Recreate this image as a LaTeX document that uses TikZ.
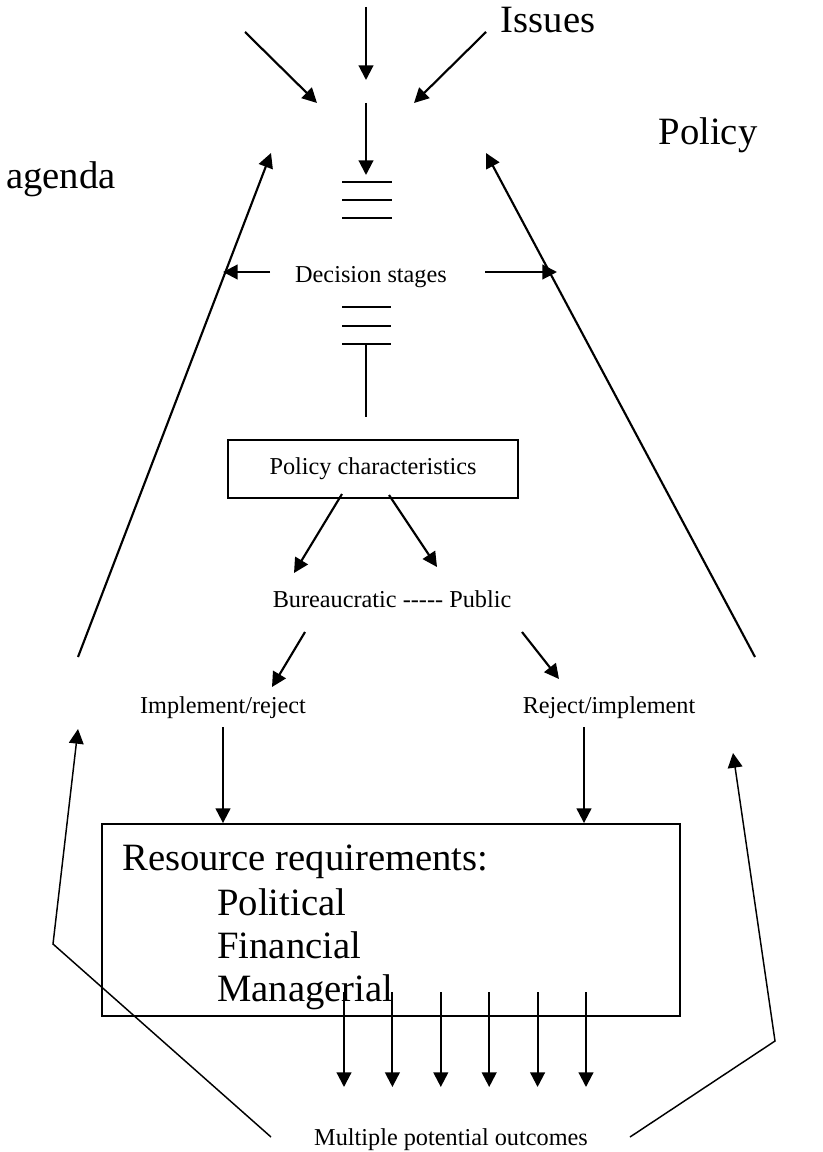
\documentclass[tikz,border=0pt]{standalone}
\usepackage{fontspec}
\setmainfont{Liberation Serif}
\usetikzlibrary{arrows.meta,calc}

\begin{document}
\begin{tikzpicture}[x=0.75pt,y=-0.75pt,
    arr/.style={line width=1.6pt,-{Triangle[length=11pt,width=11pt]}},
    thinarr/.style={line width=1.1pt,-{Triangle[length=11pt,width=11pt]}},
    bar/.style={line width=1.3pt},
    box/.style={draw,line width=1.4pt,inner sep=0pt},
    bigtext/.style={font=\fontsize{29}{34}\selectfont,inner sep=0pt,anchor=base},
    smalltext/.style={font=\fontsize{18.2}{22}\selectfont,inner sep=0pt,anchor=base}]
    \useasboundingbox (0,0) rectangle (823,1152);

    \node[bigtext] (issues) at (548,33) {Issues};
    \node[bigtext] (policy) at (708,145) {Policy};
    \node[bigtext] (agenda) at (61,188) {agenda};

    \coordinate (topa) at (366,7);   \coordinate (topb) at (366,80);
    \coordinate (dla) at (245,32);   \coordinate (dlb) at (317,103);
    \coordinate (dra) at (486,32);   \coordinate (drb) at (414,103);
    \coordinate (mida) at (366,103); \coordinate (midb) at (366,175);
    \draw[arr] (topa) -- (topb);
    \draw[arr] (dla) -- (dlb);
    \draw[arr] (dra) -- (drb);
    \draw[arr] (mida) -- (midb);
    \foreach \y in {182,200,218}
        \draw[bar] (342,\y) -- (392,\y);

    \node[smalltext] (stages) at (371,282) {Decision stages};
    \coordinate (sla) at (270,272); \coordinate (slb) at (223,272);
    \coordinate (sra) at (485,272); \coordinate (srb) at (557,272);
    \draw[arr] (sla) -- (slb);
    \draw[arr] (sra) -- (srb);
    \foreach \y in {307,326,344}
        \draw[bar] (342,\y) -- (391,\y);
    \coordinate (stema) at (366,344); \coordinate (stemb) at (366,417);
    \draw[bar] (stema) -- (stemb);

    \node[box,smalltext,anchor=center,minimum width=217.5pt,minimum height=43.5pt] (pc) at (373,469) {Policy characteristics};
    \coordinate (pcl) at (342,494); \coordinate (pclt) at (294,573);
    \coordinate (pcr) at (389,495); \coordinate (pcrt) at (437,567);
    \draw[arr] (pcl) -- (pclt);
    \draw[arr] (pcr) -- (pcrt);

    \node[smalltext] (bp) at (392,607) {Bureaucratic -{}-{}-{}-{}- Public};
    \coordinate (bpl) at (305,632); \coordinate (bplt) at (272,687);
    \coordinate (bpr) at (522,632); \coordinate (bprt) at (559,679);
    \draw[arr] (bpl) -- (bplt);
    \draw[arr] (bpr) -- (bprt);

    \node[smalltext] (impl) at (223,713) {Implement/reject};
    \node[smalltext] (rej) at (609,713) {Reject/implement};

    % long feedback lines
    \coordinate (lla) at (78,657);  \coordinate (llb) at (271,153);
    \coordinate (rla) at (755,657); \coordinate (rlb) at (486,153);
    \draw[arr] (lla) -- (llb);
    \draw[arr] (rla) -- (rlb);

    \node[box,minimum width=433.5pt,minimum height=144pt] (rr) at (391,920) {};
    \node[bigtext,anchor=base west] (rrh) at (122,870) {Resource requirements:};
    \node[bigtext,anchor=base west] (rrp) at (217,915) {Political};
    \node[bigtext,anchor=base west] (rrf) at (217,958) {Financial};
    \node[bigtext,anchor=base west] (rrm) at (217,1001) {Managerial};
    \coordinate (ia) at (223,727); \coordinate (ra) at (584,727);
    \draw[arr] (ia) -- (ia |- rr.north);
    \draw[arr] (ra) -- (ra |- rr.north);

    \foreach \i in {0,...,5} {
        \coordinate (out\i) at ({344+48.4*\i},992);
        \coordinate (tip\i) at ({344+48.4*\i},1087);
        \draw[arr] (out\i) -- (tip\i);
    }
    \node[smalltext] (mpo) at (451,1145) {Multiple potential outcomes};

    \coordinate (lba) at (271,1137); \coordinate (lbc) at (53,944); \coordinate (lbt) at (78,729);
    \coordinate (rba) at (630,1137); \coordinate (rbc) at (775,1041); \coordinate (rbt) at (733,753);
    \draw[thinarr] (lba) -- (lbc) -- (lbt);
    \draw[thinarr] (rba) -- (rbc) -- (rbt);
\end{tikzpicture}
\end{document}
